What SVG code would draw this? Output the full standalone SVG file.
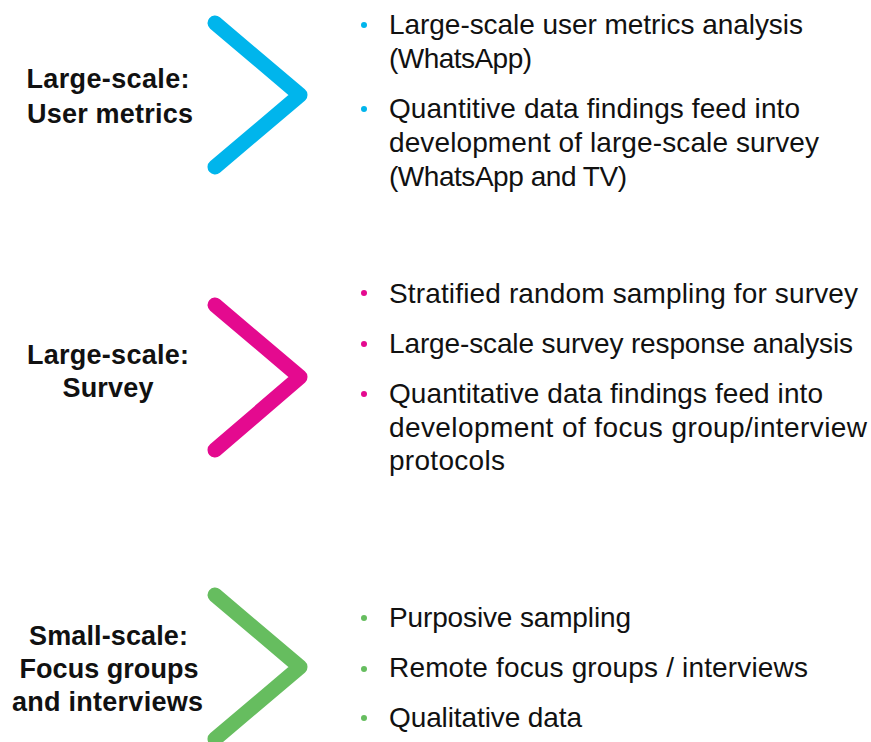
<svg xmlns="http://www.w3.org/2000/svg" width="871" height="742" viewBox="0 0 871 742">
  <style>
    .label { font-family: "Liberation Sans", Arial, sans-serif; font-weight: bold; font-size: 27px; fill: #111; text-anchor: middle; }
    .item { font-family: "Liberation Sans", Arial, sans-serif; font-size: 28px; fill: #111; }
    .chev { fill: none; stroke-width: 15; stroke-linecap: round; stroke-linejoin: round; }
  </style>
  <rect width="871" height="742" fill="#ffffff"/>

  <g id="stage-user-metrics">
    <text class="label" x="108" y="88" textLength="163" lengthAdjust="spacing">Large-scale:</text>
    <text class="label" x="110" y="123" textLength="166" lengthAdjust="spacing">User metrics</text>
    <polyline class="chev" stroke="#00b5ec" points="215,23 300,95 215,167"/>
    <g fill="#00b5ec">
      <circle cx="364" cy="25" r="3"/>
      <circle cx="364" cy="109" r="3"/>
    </g>
    <text class="item" x="389" y="34" textLength="414" lengthAdjust="spacing">Large-scale user metrics analysis</text>
    <text class="item" x="389" y="68" textLength="143" lengthAdjust="spacing">(WhatsApp)</text>
    <text class="item" x="389" y="118" textLength="411" lengthAdjust="spacing">Quantitive data findings feed into</text>
    <text class="item" x="389" y="152" textLength="430" lengthAdjust="spacing">development of large-scale survey</text>
    <text class="item" x="389" y="186" textLength="238" lengthAdjust="spacing">(WhatsApp and TV)</text>
  </g>

  <g id="stage-survey">
    <text class="label" x="108" y="364" textLength="162" lengthAdjust="spacing">Large-scale:</text>
    <text class="label" x="108" y="397" textLength="91" lengthAdjust="spacing">Survey</text>
    <polyline class="chev" stroke="#e40a8f" points="215,305 300,377 215,450"/>
    <g fill="#e40a8f">
      <circle cx="364" cy="293" r="3"/>
      <circle cx="364" cy="344" r="3"/>
      <circle cx="364" cy="394" r="3"/>
    </g>
    <text class="item" x="389" y="303" textLength="469" lengthAdjust="spacing">Stratified random sampling for survey</text>
    <text class="item" x="389" y="353" textLength="464" lengthAdjust="spacing">Large-scale survey response analysis</text>
    <text class="item" x="389" y="403" textLength="434" lengthAdjust="spacing">Quantitative data findings feed into</text>
    <text class="item" x="389" y="437" textLength="478" lengthAdjust="spacing">development of focus group/interview</text>
    <text class="item" x="389" y="470" textLength="116" lengthAdjust="spacing">protocols</text>
  </g>

  <g id="stage-focus-groups">
    <text class="label" x="108.5" y="645" textLength="159" lengthAdjust="spacing">Small-scale:</text>
    <text class="label" x="109" y="678" textLength="179" lengthAdjust="spacing">Focus groups</text>
    <text class="label" x="107.5" y="711" textLength="191" lengthAdjust="spacing">and interviews</text>
    <polyline class="chev" stroke="#66bd5f" points="215,595 300,667 215,739"/>
    <g fill="#66bd5f">
      <circle cx="364" cy="618" r="3"/>
      <circle cx="364" cy="669" r="3"/>
      <circle cx="364" cy="718" r="3"/>
    </g>
    <text class="item" x="389" y="627" textLength="242" lengthAdjust="spacing">Purposive sampling</text>
    <text class="item" x="389" y="677" textLength="419" lengthAdjust="spacing">Remote focus groups / interviews</text>
    <text class="item" x="389" y="727" textLength="193" lengthAdjust="spacing">Qualitative data</text>
  </g>

  <g id="connectors"></g>
</svg>
